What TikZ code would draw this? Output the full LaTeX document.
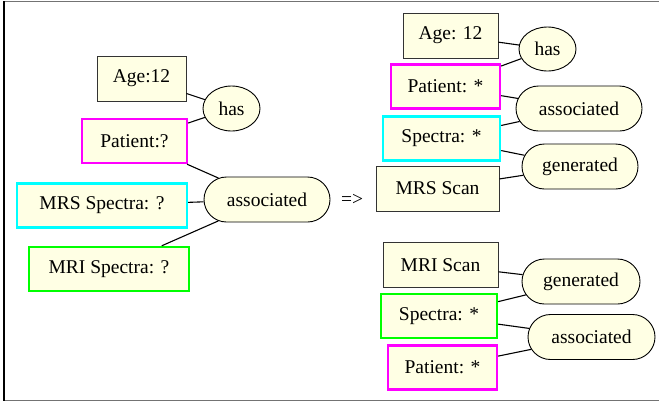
\documentclass[tikz,border=0pt]{standalone}
\usepackage{fontspec}
\setmainfont{Liberation Serif}
\usetikzlibrary{shapes, shapes.geometric, shapes.misc, positioning}
\definecolor{cream}{RGB}{255,255,228}
\definecolor{qpink}{RGB}{255,0,255}
\definecolor{qcyan}{RGB}{0,255,255}
\definecolor{qgreen}{RGB}{0,255,0}

\begin{document}
\begin{tikzpicture}[x=1pt, y=-1pt, font=\fontsize{19.5}{23}\selectfont]
% Node styles
\tikzstyle{entity} = [rectangle, minimum height=45pt, inner sep=0pt, text centered, draw=black!80, line width=0.9pt, fill=cream]
\tikzstyle{query} = [entity, line width=2.4pt, minimum height=44pt]
\tikzstyle{relation} = [rounded rectangle, minimum width=116pt, minimum height=45pt, inner sep=0pt, draw=black, line width=0.9pt, fill=cream]
\tikzstyle{small} = [ellipse, minimum width=57pt, minimum height=45pt, inner sep=0pt, draw=black, line width=0.9pt, fill=cream]
\tikzstyle{link} = [line width=1.1pt, black]

\useasboundingbox (0,0) rectangle (659,402);
\draw [line width=1.5pt, black!55] (3,1.5) -- (659,1.5);
\draw [line width=1.5pt, black!55] (3,400.5) -- (659,400.5);
\draw [line width=1.5pt, black] (4,1) -- (4,401);

% Query graph
\node [entity, minimum width=89pt] (age1) at (141.5,78.5) {Age:12};
\node [small] (has1) at (231.5,108.5) {has};
\node [query, draw=qpink, minimum width=105pt] (pat1) at (134.5,141) {Patient:?};
\node [relation, minimum width=126pt] (assoc1) at (267,199.5) {associated};
\node [query, draw=qcyan, minimum width=170pt] (mrs1) at (102,205.5) {MRS Spectra: ?};
\node [query, draw=qgreen, minimum width=160pt] (mri1) at (109,269) {MRI Spectra: ?};

\node (to) at (352,200) {=>};

% Answer graph 1
\node [entity, minimum width=95pt] (age2) at (450.5,35.5) {Age: 12};
\node [small, minimum height=44pt] (has2) at (547.5,49) {has};
\node [query, draw=qpink, minimum width=109pt] (pat2) at (445.5,86.5) {Patient: *};
\node [relation, minimum width=126pt] (assoc2) at (579,108.5) {associated};
\node [query, draw=qcyan, minimum width=117pt] (spec2) at (441.5,138.5) {Spectra: *};
\node [relation] (gen2) at (580,166.5) {generated};
\node [entity, minimum width=123pt] (mrs2) at (437.5,188.5) {MRS Scan};

% Answer graph 2
\node [entity, minimum width=115pt] (mri3) at (440.5,265) {MRI Scan};
\node [relation, minimum width=118pt] (gen3) at (581,281.5) {generated};
\node [query, draw=qgreen, minimum width=116pt] (spec3) at (439,316) {Spectra: *};
\node [relation, minimum width=127pt] (assoc3) at (591.5,337) {associated};
\node [query, draw=qpink, minimum width=109pt] (pat3) at (442.5,367.5) {Patient: *};

% Lines
\draw [link] (age1) -- (has1);
\draw [link] (pat1) -- (has1);
\draw [link] (pat1) -- (assoc1);
\draw [link] (mrs1) -- (assoc1);
\draw [link] (mri1) -- (assoc1);

\draw [link] (age2) -- (has2);
\draw [link] (pat2) -- (has2);
\draw [link] (pat2) -- (assoc2);
\draw [link] (spec2) -- (assoc2);
\draw [link] (spec2) -- (gen2);
\draw [link] (mrs2) -- (gen2);

\draw [link] (mri3) -- (gen3);
\draw [link] (spec3) -- (gen3);
\draw [link] (spec3) -- (assoc3);
\draw [link] (pat3) -- (assoc3);
\end{tikzpicture}
\end{document}
